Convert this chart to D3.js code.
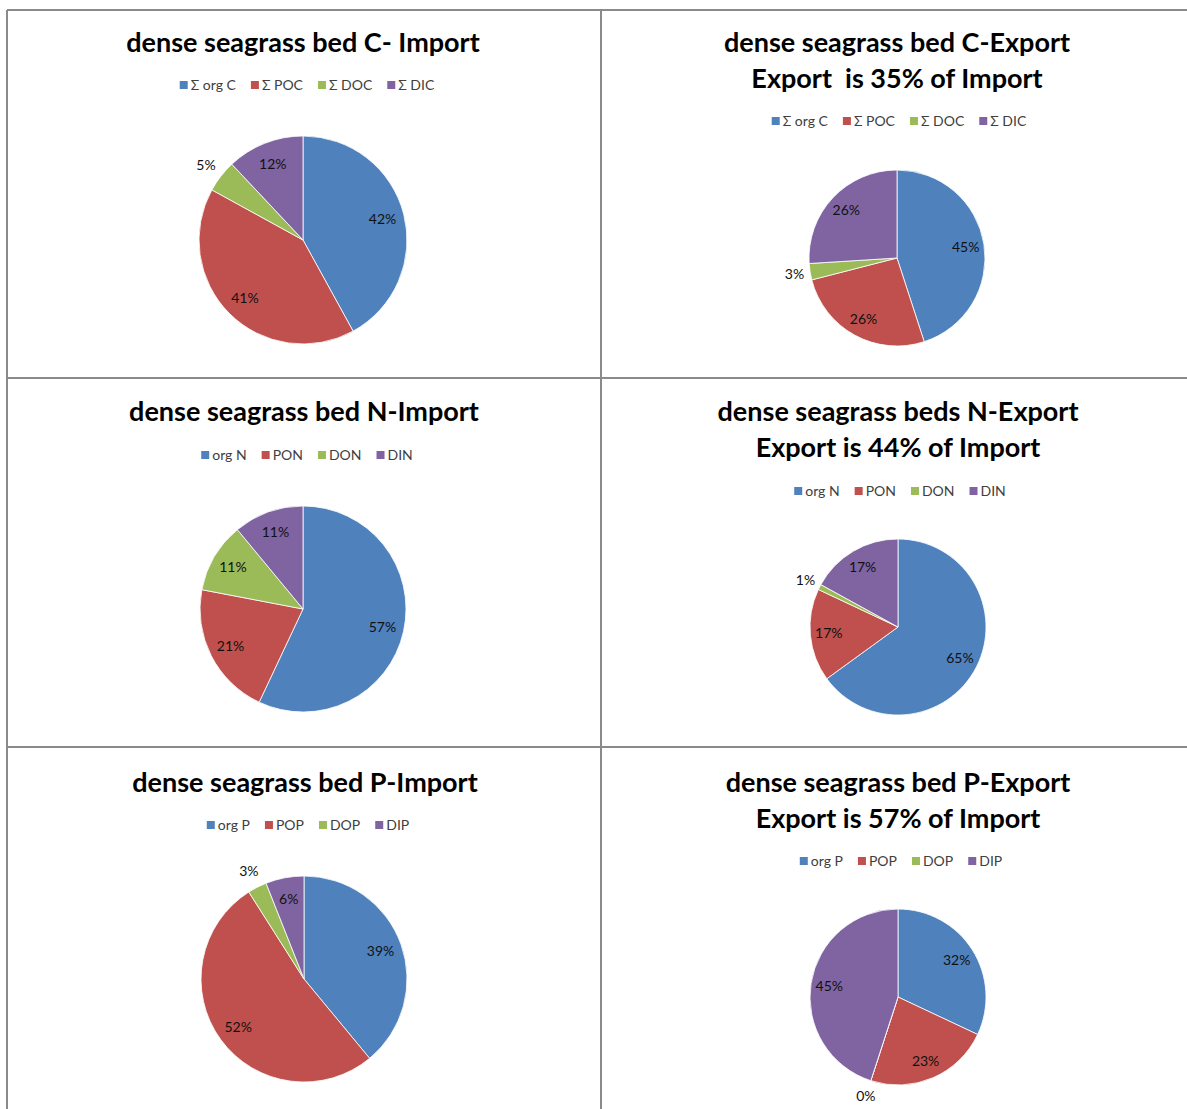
<!DOCTYPE html>
<html>
<head>
<meta charset="utf-8">
<script src="https://cdn.jsdelivr.net/npm/d3@7"></script>
<style>
  html, body { margin: 0; padding: 0; background: #fff; }
  svg { display: block; }
</style>
</head>
<body>
<svg id="chart" width="1187" height="1109"></svg>
<script>
// ---- data ----
const titlesCImport = ["dense seagrass bed C- Import"];
const titlesCExport = ["dense seagrass bed C-Export", "Export  is 35% of Import"];
const titlesNImport = ["dense seagrass bed N-Import"];
const titlesNExport = ["dense seagrass beds N-Export", "Export is 44% of Import"];
const titlesPImport = ["dense seagrass bed P-Import"];
const titlesPExport = ["dense seagrass bed P-Export", "Export is 57% of Import"];

const catsC = ["Σ org C", "Σ POC", "Σ DOC", "Σ DIC"];
const catsN = ["org N", "PON", "DON", "DIN"];
const catsP = ["org P", "POP", "DOP", "DIP"];

const valsCImport = [42, 41, 5, 12];
const valsCExport = [45, 26, 3, 26];
const valsNImport = [57, 21, 11, 11];
const valsNExport = [65, 17, 1, 17];
const valsPImport = [39, 52, 3, 6];
const valsPExport = [32, 23, 0, 45];

const colors = ["#4F81BD", "#C0504D", "#9BBB59", "#8064A2"];

// ---- layout ----
const panels = [
  { titles: titlesCImport, cats: catsC, vals: valsCImport, tx: [303], ty: [52], ly: 85, lx: 307, cx: 303, cy: 240, r: 104 },
  { titles: titlesCExport, cats: catsC, vals: valsCExport, tx: [897, 897], ty: [52, 88], ly: 121, lx: 899, cx: 897, cy: 258, r: 88 },
  { titles: titlesNImport, cats: catsN, vals: valsNImport, tx: [304], ty: [421], ly: 455, lx: 307, cx: 303, cy: 609, r: 103 },
  { titles: titlesNExport, cats: catsN, vals: valsNExport, tx: [898, 898], ty: [421, 457], ly: 491, lx: 900, cx: 898, cy: 627, r: 88 },
  { titles: titlesPImport, cats: catsP, vals: valsPImport, tx: [305], ty: [792], ly: 825, lx: 308, cx: 304, cy: 979, r: 103 },
  { titles: titlesPExport, cats: catsP, vals: valsPExport, tx: [898, 898], ty: [792, 828], ly: 861, lx: 901, cx: 898, cy: 997, r: 88 }
];

const svg = d3.select("#chart");

// cell borders
const border = svg.append("g").attr("stroke", "#8a8a8a").attr("stroke-width", 2).attr("fill", "none");
[[7, 10, 1187, 10], [7, 378, 1187, 378], [7, 747, 1187, 747],
 [7, 10, 7, 1109], [601, 10, 601, 1109]].forEach(l => {
  border.append("line").attr("x1", l[0]).attr("y1", l[1]).attr("x2", l[2]).attr("y2", l[3]);
});

const color = d3.scaleOrdinal().range(colors);

panels.forEach(p => {
  const g = svg.append("g");

  // title
  p.titles.forEach((t, i) => {
    g.append("text")
      .attr("x", p.tx[i]).attr("y", p.ty[i])
      .attr("text-anchor", "middle")
      .attr("font-family", "Lato, 'Open Sans', sans-serif")
      .attr("font-weight", "bold")
      .attr("font-size", 27)
      .attr("fill", "#000")
      .attr("xml:space", "preserve")
      .style("white-space", "pre")
      .text(t);
  });

  // legend
  color.domain(p.cats);
  const lg = g.append("g");
  let x = 0;
  const gap = 15;
  p.cats.forEach((c, i) => {
    const item = lg.append("g").attr("transform", `translate(${x},0)`);
    item.append("rect").attr("x", 0).attr("y", -4).attr("width", 8).attr("height", 8).attr("fill", color(c));
    const t = item.append("text").attr("x", 11).attr("y", 5)
      .attr("font-family", "Lato, sans-serif").attr("font-size", 14).attr("fill", "#404040").text(c);
    x += 11 + t.node().getComputedTextLength() + gap;
  });
  const lw = x - gap;
  lg.attr("transform", `translate(${p.lx - lw / 2},${p.ly})`);

  // pie
  const pie = d3.pie().sort(null).value(d => d.v);
  const data = pie(p.cats.map((c, i) => ({ c: c, v: p.vals[i] })));
  const arc = d3.arc().innerRadius(0).outerRadius(p.r);
  const inArc = d3.arc().innerRadius(p.r * 0.79).outerRadius(p.r * 0.79);
  const outArc = d3.arc().innerRadius(p.r * 1.18).outerRadius(p.r * 1.18);

  const pg = g.append("g").attr("transform", `translate(${p.cx},${p.cy})`);
  pg.selectAll("path").data(data).enter().append("path")
    .attr("d", arc)
    .attr("fill", d => color(d.data.c))
    .attr("stroke", "#fff").attr("stroke-width", 0.8);

  pg.selectAll("text.lbl").data(data).enter().append("text")
    .attr("class", "lbl")
    .attr("transform", d => `translate(${(d.data.v <= 5 ? outArc : inArc).centroid(d)})`)
    .attr("text-anchor", "middle")
    .attr("dy", "0.35em")
    .attr("font-family", "Lato, sans-serif")
    .attr("font-size", 14)
    .attr("fill", "#111")
    .text(d => d.data.v + "%");
});
</script>
</body>
</html>
